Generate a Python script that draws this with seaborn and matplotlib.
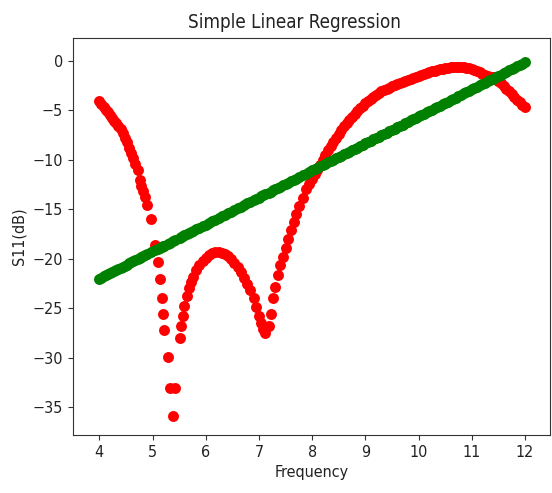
import numpy as np
import pandas as pd
import matplotlib
matplotlib.use("Agg")
import matplotlib.pyplot as plt
import seaborn as sns

# Measured reflection coefficient S11 (dB) versus frequency (GHz)
freq = [
    4.00, 4.04, 4.08, 4.12, 4.16, 4.20, 4.24, 4.28, 4.32, 4.36, 4.40, 4.44,
    4.48, 4.52, 4.56, 4.60, 4.64, 4.68, 4.72, 4.76, 4.79, 4.83, 4.86, 4.90,
    4.98, 5.05, 5.10, 5.14, 5.17, 5.19, 5.21, 5.29, 5.33, 5.38, 5.42, 5.51,
    5.54, 5.57, 5.60, 5.64, 5.68, 5.72, 5.76, 5.82, 5.88, 5.94, 6.00, 6.06,
    6.12, 6.18, 6.24, 6.30, 6.36, 6.42, 6.48, 6.54, 6.60, 6.66, 6.72, 6.78,
    6.84, 6.90, 6.95, 7.00, 7.04, 7.08, 7.12, 7.18, 7.22, 7.26, 7.30, 7.35,
    7.40, 7.45, 7.50, 7.55, 7.60, 7.65, 7.70, 7.76, 7.82, 7.88, 7.94, 8.00,
    8.05, 8.10, 8.15, 8.20, 8.25, 8.30, 8.35, 8.40, 8.45, 8.50, 8.55, 8.60,
    8.65, 8.70, 8.75, 8.80, 8.85, 8.90, 8.95, 9.00, 9.05, 9.10, 9.15, 9.20,
    9.25, 9.30, 9.35, 9.40, 9.45, 9.50, 9.55, 9.60, 9.65, 9.70, 9.75, 9.80,
    9.85, 9.90, 9.95, 10.00, 10.05, 10.10, 10.15, 10.20, 10.25, 10.30, 10.35,
    10.40, 10.45, 10.50, 10.55, 10.60, 10.65, 10.70, 10.75, 10.80, 10.85,
    10.90, 10.95, 11.00, 11.05, 11.10, 11.15, 11.20, 11.25, 11.30, 11.35,
    11.40, 11.45, 11.50, 11.55, 11.60, 11.65, 11.70, 11.75, 11.80, 11.85,
    11.90, 11.95, 12.00,
]
s11 = [
    -4.1, -4.4, -4.7, -5.0, -5.2, -5.5, -5.8, -6.1, -6.3, -6.6, -6.9, -7.3,
    -7.8, -8.2, -8.8, -9.3, -9.8, -10.4, -11.0, -12.0, -12.6, -13.2, -13.8, -14.6,
    -16.0, -18.6, -20.3, -22.0, -24.0, -25.6, -27.2, -29.9, -33.1, -35.9, -33.1, -28.0,
    -26.8, -25.8, -24.8, -23.8, -22.9, -22.3, -21.8, -21.1, -20.6, -20.2, -19.9, -19.6,
    -19.4, -19.3, -19.3, -19.4, -19.5, -19.7, -20.0, -20.4, -20.8, -21.3, -21.9, -22.5,
    -23.2, -24.0, -24.9, -25.8, -26.5, -27.1, -27.5, -26.8, -25.6, -24.0, -22.8, -21.6,
    -20.6, -19.8, -18.9, -18.0, -17.1, -16.3, -15.5, -14.7, -13.9, -13.0, -12.4, -11.9,
    -11.4, -11.0, -10.5, -10.0, -9.5, -9.0, -8.6, -8.2, -7.8, -7.4, -7.0, -6.6,
    -6.3, -6.0, -5.7, -5.4, -5.1, -4.8, -4.6, -4.3, -4.1, -3.9, -3.7, -3.5,
    -3.3, -3.1, -3.0, -2.8, -2.7, -2.5, -2.4, -2.3, -2.2, -2.1, -2.0, -1.9,
    -1.8, -1.7, -1.6, -1.5, -1.4, -1.3, -1.2, -1.1, -1.05, -1.0, -0.9,
    -0.85, -0.8, -0.75, -0.7, -0.65, -0.6, -0.6, -0.6, -0.6, -0.65,
    -0.7, -0.75, -0.85, -0.95, -1.05, -1.15, -1.3, -1.4, -1.5, -1.6,
    -1.65, -1.8, -2.0, -2.25, -2.5, -2.8, -3.1, -3.4, -3.7, -4.0,
    -4.2, -4.5, -4.7,
]

# Coefficients of the fitted regression model: S11 = intercept + slope * f
fit_slope = 2.73
fit_intercept = -32.92

x_ticks = [4, 5, 6, 7, 8, 9, 10, 11, 12]
y_ticks = [0, -5, -10, -15, -20, -25, -30, -35]

df = pd.DataFrame({"Frequency": freq, "S11": s11})
df["Predicted"] = fit_intercept + fit_slope * df["Frequency"]

fig = plt.figure(figsize=(5.52, 4.93), dpi=100)
ax = fig.add_axes([0.1317, 0.1176, 0.8647, 0.8053])

sns.scatterplot(data=df, x="Frequency", y="S11", ax=ax, color="red",
                s=62, linewidth=0, zorder=2)
sns.scatterplot(data=df, x="Frequency", y="Predicted", ax=ax, color="green",
                s=62, linewidth=0, zorder=3)

ax.set_xlim(3.5, 12.47)
ax.set_ylim(-37.8, 2.3)
ax.set_xticks(x_ticks)
ax.set_yticks(y_ticks)

font = dict(family="DejaVu Sans", stretch="condensed")
ax.set_title("Simple Linear Regression", fontsize=13.5, pad=7, x=0.464,
             color="#222222", **font)
ax.set_xlabel("Frequency", fontsize=11.5, color="#222222", **font)
ax.set_ylabel("S11(dB)", fontsize=11.5, color="#222222", **font)
for lab in ax.get_xticklabels() + ax.get_yticklabels():
    lab.set_fontfamily("DejaVu Sans")
    lab.set_fontstretch("condensed")
    lab.set_fontsize(11.5)

for sp in ax.spines.values():
    sp.set_color("#333333")
ax.tick_params(colors="#333333", labelcolor="#222222")

fig.savefig("out.png", dpi=100)
